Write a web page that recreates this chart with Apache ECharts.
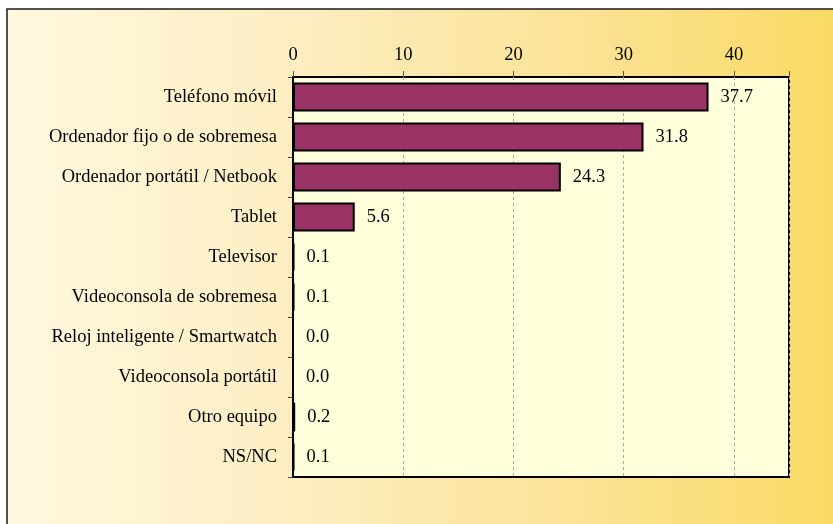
<!DOCTYPE html>
<html>
<head>
<meta charset="utf-8">
<style>
html,body{margin:0;padding:0;background:#fff;}
#chart{width:833px;height:524px;}
</style>
<script src="https://cdn.jsdelivr.net/npm/echarts@6/dist/echarts.min.js"></script>
</head>
<body>
<div id="chart"></div>
<script>
var categories = ['Teléfono móvil','Ordenador fijo o de sobremesa','Ordenador portátil / Netbook','Tablet','Televisor','Videoconsola de sobremesa','Reloj inteligente / Smartwatch','Videoconsola portátil','Otro equipo','NS/NC'];
var values = [37.7, 31.8, 24.3, 5.6, 0.1, 0.1, 0.0, 0.0, 0.2, 0.1];
var xTicks = [0, 10, 20, 30, 40];

var chart = echarts.init(document.getElementById('chart'), null, {renderer:'canvas'});
var font = '"Liberation Serif","Times New Roman",serif';
chart.setOption({
  backgroundColor: '#ffffff',
  animation: false,
  graphic: [{
    type: 'rect', z: -10, silent: true,
    shape: {x: 7, y: 9, width: 900, height: 600},
    style: {
      fill: new echarts.graphic.LinearGradient(0, 0, 1, 0, [
        {offset: 0, color: '#FFF8DF'},
        {offset: 0.3, color: '#FDEEC4'},
        {offset: 0.65, color: '#FBE293'},
        {offset: 1, color: '#F9D856'}
      ]),
      stroke: '#1a1a1a', lineWidth: 1.5
    }
  }],
  grid: {left: 293, top: 77, right: 44, bottom: 47, containLabel: false,
    show: true, backgroundColor: '#FFFFDC', borderColor: '#000', borderWidth: 2},
  xAxis: {
    type: 'value', position: 'top', min: 0, max: 45, interval: 10,
    axisLine: {show: false},
    axisTick: {show: true, length: 6, inside: false, lineStyle: {color: '#555', width: 1}},
    axisLabel: {margin: 12, fontFamily: font, fontSize: 18.5, color: '#000',
      formatter: function (v) { return xTicks.indexOf(v) >= 0 ? String(v) : ''; }},
    splitLine: {show: true, lineStyle: {color: '#aaaaaa', type: [3, 3], width: 1}}
  },
  yAxis: {
    type: 'category', data: categories, inverse: true,
    axisLine: {show: true, lineStyle: {color: '#000', width: 2}},
    axisTick: {show: true, length: 5, alignWithLabel: false, lineStyle: {color: '#444', width: 1}},
    axisLabel: {margin: 16, fontFamily: font, fontSize: 18.5, color: '#000'},
    splitLine: {show: false}
  },
  series: [{
    type: 'bar', data: values, barCategoryGap: '28%',
    itemStyle: {color: '#993366', borderColor: '#000', borderWidth: 2},
    label: {show: true, position: 'right', distance: 12, fontFamily: font, fontSize: 18.5, color: '#000',
      formatter: function (p) { return p.value.toFixed(1); }}
  }]
});
</script>
</body>
</html>
